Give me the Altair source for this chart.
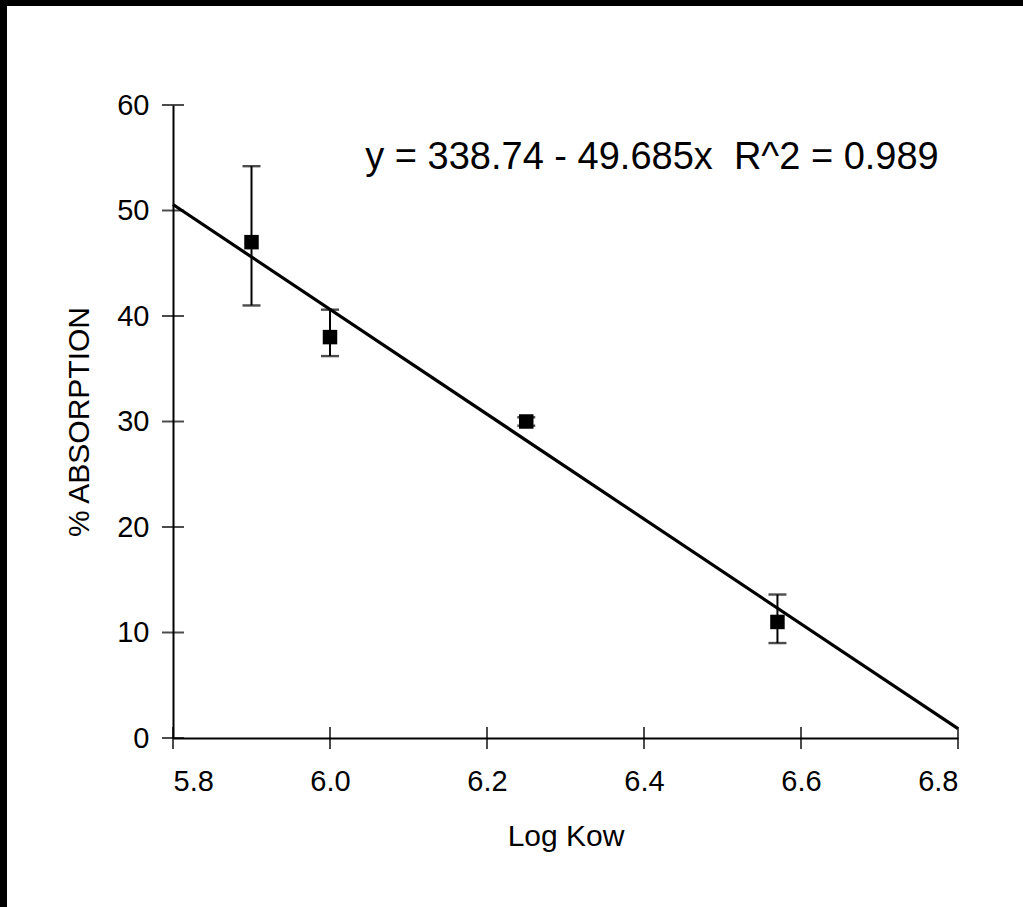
import altair as alt
import pandas as pd

# ---- data ----
log_kow = [5.9, 6.0, 6.25, 6.57]
absorption = [47.0, 38.0, 30.0, 11.0]
err_low = [41.0, 36.2, 29.6, 9.0]
err_high = [54.2, 40.6, 30.4, 13.6]

fit_x = [5.8, 6.8]
intercept = 338.74
slope = -49.685
fit_y = [intercept + slope * v for v in fit_x]

x_ticks = [5.8, 6.0, 6.2, 6.4, 6.6, 6.8]
y_ticks = [0, 10, 20, 30, 40, 50, 60]
equation = "y = 338.74 - 49.685x \u00a0R^2 = 0.989"

W, H = 785, 633
PAD_L, PAD_T = 173, 105
PAD_R, PAD_B = 1023 - PAD_L - W, 907 - PAD_T - H
FONT = "Liberation Sans"

pts = pd.DataFrame({"x": log_kow, "y": absorption, "lo": err_low, "hi": err_high})
fit = pd.DataFrame({"x": fit_x, "y": fit_y})
xt = pd.DataFrame({"x": x_ticks, "y": [0] * len(x_ticks)})
yt = pd.DataFrame({"x": [5.8] * len(y_ticks), "y": y_ticks})

xscale = alt.Scale(domain=[5.8, 6.8], nice=False, zero=False)
yscale = alt.Scale(domain=[0, 60], nice=False)

xaxis = alt.Axis(values=x_ticks, format=".1f", ticks=False, grid=False,
                 title="Log Kow", labelPadding=29, titlePadding=25)
yaxis = alt.Axis(values=y_ticks, format="d", ticks=False, grid=False,
                 title="% ABSORPTION", labelPadding=24, titlePadding=22)

base = alt.Chart(pts)

axes_layer = alt.Chart(fit).mark_line(opacity=0).encode(
    x=alt.X("x:Q", scale=xscale, axis=xaxis),
    y=alt.Y("y:Q", scale=yscale, axis=yaxis),
)

fit_line = alt.Chart(fit).mark_line(color="black", strokeWidth=3.2).encode(
    x=alt.X("x:Q", scale=xscale), y=alt.Y("y:Q", scale=yscale)
)

err_rule = base.mark_rule(color="black", strokeWidth=2).encode(
    x=alt.X("x:Q", scale=xscale), y=alt.Y("lo:Q", scale=yscale), y2="hi:Q"
)
cap_lo = base.mark_tick(color="black", orient="horizontal", size=18, thickness=2.4).encode(
    x=alt.X("x:Q", scale=xscale), y=alt.Y("lo:Q", scale=yscale)
)
cap_hi = base.mark_tick(color="black", orient="horizontal", size=18, thickness=2.4).encode(
    x=alt.X("x:Q", scale=xscale), y=alt.Y("hi:Q", scale=yscale)
)
markers = base.mark_point(shape="square", filled=True, color="black", size=210, opacity=1).encode(
    x=alt.X("x:Q", scale=xscale), y=alt.Y("y:Q", scale=yscale)
)

xtick_marks = alt.Chart(xt).mark_tick(color="black", orient="vertical", size=22, thickness=2).encode(
    x=alt.X("x:Q", scale=xscale), y=alt.Y("y:Q", scale=yscale)
)
ytick_marks = alt.Chart(yt).mark_tick(color="black", orient="horizontal", size=22, thickness=2).encode(
    x=alt.X("x:Q", scale=xscale), y=alt.Y("y:Q", scale=yscale)
)

eq_text = alt.Chart(pd.DataFrame({"t": [equation]})).mark_text(
    font=FONT, fontSize=38, color="black", align="center", baseline="middle"
).encode(text="t:N", x=alt.value(652 - PAD_L), y=alt.value(158 - PAD_T))

frame = pd.DataFrame({"k": [0]})
left_bar = alt.Chart(frame).mark_rule(color="black", strokeWidth=7).encode(
    x=alt.value(-PAD_L + 3.5), y=alt.value(-PAD_T), y2=alt.value(907 - PAD_T)
)
top_bar = alt.Chart(frame).mark_rule(color="black", strokeWidth=6).encode(
    x=alt.value(-PAD_L), x2=alt.value(1023 - PAD_L), y=alt.value(-PAD_T + 3)
)

chart = alt.layer(
    axes_layer, fit_line, err_rule, cap_lo, cap_hi, markers,
    xtick_marks, ytick_marks, eq_text, left_bar, top_bar
).properties(
    width=W, height=H,
    autosize=alt.AutoSizeParams(type="none"),
    padding={"left": PAD_L, "top": PAD_T, "right": PAD_R, "bottom": PAD_B},
    background="white",
).configure_view(stroke=None).configure_axis(
    domainColor="black", domainWidth=2,
    labelFont=FONT, labelFontSize=29, labelColor="black",
    titleFont=FONT, titleFontSize=30, titleColor="black", titleFontWeight="normal",
)

chart.save("out.html", embed_options={"renderer": "svg", "actions": False})
